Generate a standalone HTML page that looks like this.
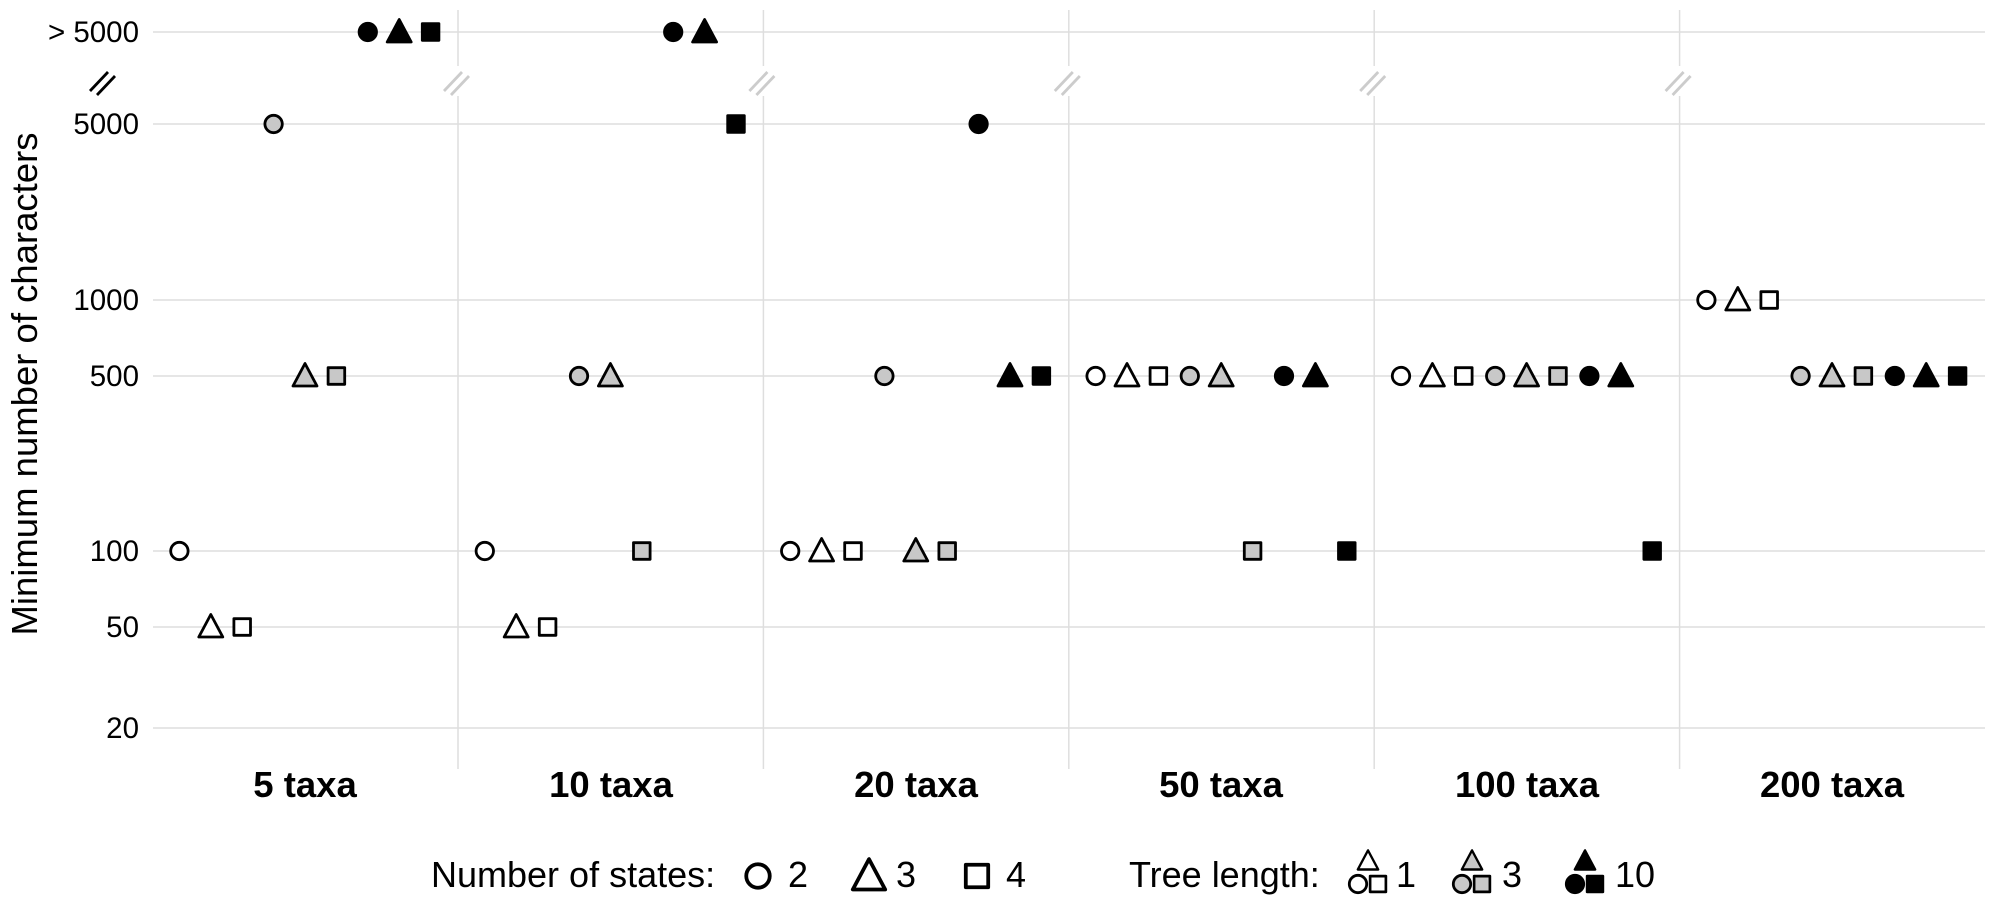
<!DOCTYPE html>
<html><head><meta charset="utf-8"><style>html,body{margin:0;padding:0;background:#fff}svg{display:block}text{font-family:"Liberation Sans",Arial,sans-serif}</style></head>
<body>
<svg id="s" width="2000" height="904" xmlns="http://www.w3.org/2000/svg">
<g id="grid" stroke="#dedede" stroke-width="1.5"></g>
<g id="pts"></g>
<g font-size="29.5" text-anchor="end" fill="#000">
<text x="139" y="42">&gt; 5000</text>
<text x="139" y="134">5000</text>
<text x="139" y="310">1000</text>
<text x="139" y="386">500</text>
<text x="139" y="561">100</text>
<text x="139" y="637">50</text>
<text x="139" y="738">20</text>
</g>
<g stroke="#000" stroke-width="2.8"><line x1="90" y1="91" x2="108" y2="72"/><line x1="97" y1="95" x2="115" y2="76"/></g>
<text transform="translate(37,384) rotate(-90)" font-size="36.5" text-anchor="middle">Minimum number of characters</text>
<g font-size="36.5" font-weight="bold" text-anchor="middle">
<text x="305" y="797">5 taxa</text><text x="611" y="797">10 taxa</text><text x="916" y="797">20 taxa</text><text x="1221" y="797">50 taxa</text><text x="1527" y="797">100 taxa</text><text x="1832" y="797">200 taxa</text>
</g>
<g font-size="36">
<text x="431" y="887">Number of states:</text>
<text x="788" y="887">2</text><text x="896" y="887">3</text><text x="1006" y="887">4</text>
<text x="1129" y="887">Tree length:</text>
<text x="1396" y="887">1</text><text x="1502" y="887">3</text><text x="1615" y="887">10</text>
</g>
<g id="leg"></g>
</svg>
<script>
var ns="http://www.w3.org/2000/svg";
function el(p,t,a){var e=document.createElementNS(ns,t);for(var k in a)e.setAttribute(k,a[k]);p.appendChild(e);return e;}
var G=document.getElementById('grid'),P=document.getElementById('pts'),L=document.getElementById('leg');
var Y={g:32,5000:124,1000:300,500:376,100:551,50:627,20:728};
[32,124,300,376,551,627,728].forEach(function(y){el(G,'line',{x1:153,x2:1985,y1:y,y2:y});});
var pw=305.4,x0=152.6;
for(var i=1;i<6;i++){var x=x0+i*pw;el(G,'line',{x1:x,x2:x,y1:10,y2:769});
el(P,'rect',{x:x-16,y:66,width:32,height:30,fill:'#fff'});
el(P,'line',{x1:x-14,y1:91,x2:x+4,y2:72,stroke:'#ccc','stroke-width':2.8});el(P,'line',{x1:x-7,y1:95,x2:x+11,y2:76,stroke:'#ccc','stroke-width':2.8});}
function mk(par,shape,x,y,fill,s){s=s||1;var a={fill:fill,stroke:'#000','stroke-width':2.8*s,'stroke-linejoin':'round'};
if(shape==0){a.cx=x;a.cy=y;a.r=8.7*s;el(par,'circle',a);}
else if(shape==1){var w=12*s,h=10*s;a.points=(x-w)+','+(y+h)+' '+(x+w)+','+(y+h)+' '+x+','+(y-h-2.5*s);el(par,'polygon',a);}
else{var q=8.3*s;a.x=x-q;a.y=y-q;a.width=2*q;a.height=2*q;el(par,'rect',a);}}
var D=[[100,50,50,5000,500,500,'g','g','g'],[100,50,50,500,500,100,'g','g',5000],[100,100,100,500,100,100,5000,500,500],[500,500,500,500,500,100,500,500,100],[500,500,500,500,500,500,500,500,100],[1000,1000,1000,500,500,500,500,500,500]];
var F=['#fff','#c8c8c8','#000'];
D.forEach(function(r,p){r.forEach(function(v,j){mk(P,j%3,x0+p*pw+26.8+j*31.4,Y[v],F[Math.floor(j/3)]);});});
mk(L,0,758,876,'#fff',1.35);mk(L,1,869,876,'#fff',1.35);mk(L,2,977,876,'#fff',1.35);
[[1368,'#fff'],[1472,'#c8c8c8'],[1585,'#000']].forEach(function(c){mk(L,1,c[0],861,c[1],0.85);mk(L,0,c[0]-10,884,c[1],1.0);mk(L,2,c[0]+10,884,c[1],0.95);});
</script>
</body></html>
